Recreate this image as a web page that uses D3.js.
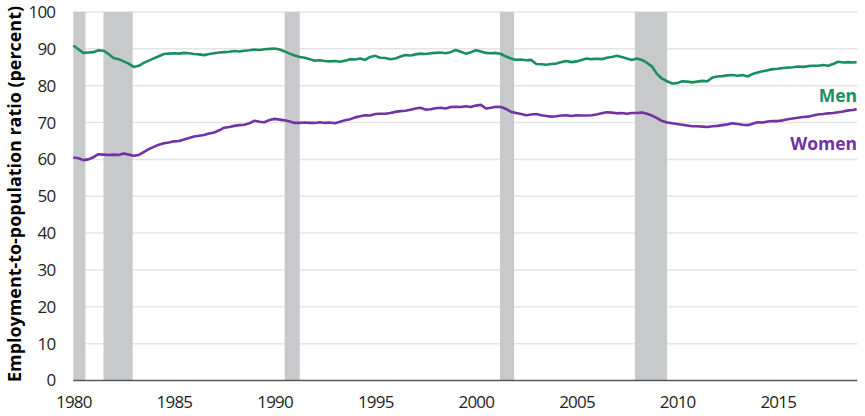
<!DOCTYPE html>
<html>
<head>
<meta charset="utf-8">
<script src="https://cdn.jsdelivr.net/npm/d3@7"></script>
<style>
    body { margin: 0; background: #fff; }
    svg { display: block; font-family: "Open Sans", sans-serif; }
</style>
</head>
<body>
<svg id="chart" width="865" height="416"></svg>
<script>
// quarterly readings (Jan, Apr, Jul, Oct) 1980-2018, last entry is Dec 2018
const menValues = [
    90.9, 89.9, 88.9, 89.0,   89.1, 89.6, 89.5, 88.6,   87.5, 87.2, 86.6, 86.0,
    85.1, 85.4, 86.2, 86.8,   87.4, 88.0, 88.6, 88.7,   88.8, 88.7, 88.9, 88.8,
    88.6, 88.5, 88.3, 88.6,   88.8, 89.0, 89.1, 89.2,   89.4, 89.3, 89.5, 89.6,
    89.8, 89.7, 89.9, 90.0,   90.1, 89.8, 89.3, 88.7,   88.2, 87.8, 87.6, 87.2,
    86.8, 86.9, 86.7, 86.6,   86.7, 86.5, 86.8, 87.2,   87.1, 87.4, 87.0, 87.8,
    88.1, 87.6, 87.5, 87.2,   87.4, 87.9, 88.3, 88.2,   88.5, 88.7, 88.6, 88.8,
    88.9, 89.0, 88.8, 89.1,   89.7, 89.2, 88.7, 89.1,   89.6, 89.3, 88.9, 88.8,
    88.9, 88.6, 87.9, 87.4,   87.0, 87.1, 86.9, 87.0,   85.9, 85.8, 85.7, 85.9,
    86.0, 86.4, 86.7, 86.4,   86.6, 87.0, 87.4, 87.2,   87.3, 87.2, 87.6, 87.8,
    88.1, 87.8, 87.4, 87.0,   87.4, 87.0, 86.2, 85.2,   83.2, 81.9, 81.2, 80.6,
    80.7, 81.2, 81.1, 80.9,   81.1, 81.3, 81.2, 82.2,   82.5, 82.6, 82.8, 82.9,
    82.7, 82.9, 82.5, 83.2,   83.6, 83.9, 84.2, 84.5,   84.6, 84.8, 84.9, 85.0,
    85.2, 85.1, 85.3, 85.4,   85.4, 85.6, 85.4, 85.9,   86.5, 86.3, 86.4, 86.3,
    86.4
];
const womenValues = [
    60.5, 60.3, 59.8, 60.0,   60.6, 61.4, 61.3, 61.2,   61.3, 61.2, 61.6, 61.3,
    61.0, 61.2, 62.0, 62.8,   63.4, 64.0, 64.4, 64.6,   64.9, 65.0, 65.4, 65.8,
    66.2, 66.4, 66.6, 67.0,   67.3, 67.9, 68.6, 68.8,   69.1, 69.3, 69.4, 69.8,
    70.5, 70.2, 70.1, 70.7,   71.0, 70.8, 70.6, 70.3,   69.9, 69.9, 70.0, 69.9,
    69.9, 70.1, 69.9, 70.0,   69.8, 70.2, 70.6, 70.9,   71.4, 71.7, 72.0, 71.9,
    72.3, 72.4, 72.4, 72.6,   72.9, 73.1, 73.2, 73.5,   73.8, 74.0, 73.5, 73.6,
    73.9, 74.0, 73.8, 74.2,   74.3, 74.2, 74.4, 74.2,   74.6, 74.8, 73.8, 74.0,
    74.3, 74.2, 73.7, 72.9,   72.6, 72.3, 72.0, 72.2,   72.3, 72.0, 71.8, 71.6,
    71.7, 71.9, 72.0, 71.8,   72.0, 71.9, 71.9, 72.0,   72.2, 72.5, 72.8, 72.7,
    72.5, 72.6, 72.4, 72.6,   72.6, 72.7, 72.4, 71.9,   71.2, 70.4, 70.0, 69.8,
    69.6, 69.4, 69.2, 69.0,   69.0, 68.9, 68.8, 69.0,   69.1, 69.3, 69.5, 69.8,
    69.6, 69.4, 69.3, 69.7,   70.1, 70.0, 70.3, 70.4,   70.4, 70.6, 70.9, 71.1,
    71.3, 71.5, 71.6, 71.9,   72.2, 72.3, 72.5, 72.6,   72.8, 73.0, 73.3, 73.4,
    73.7
];
// months since Jan 1980 for each reading
const monthIndex = d3.range(0, 468, 3).concat([467]);

// recessions, as decimal years [start, end]
const recessionStart = [1980.0, 1981.5, 1990.5, 2001.2, 2007.9];
const recessionEnd = [1980.6, 1982.95, 1991.25, 2001.9, 2009.5];

const yTicks = [0, 10, 20, 30, 40, 50, 60, 70, 80, 90, 100];
const xTicks = [1980, 1985, 1990, 1995, 2000, 2005, 2010, 2015];

const menColor = "#1a8f5e";
const womenColor = "#7132a3";

const svg = d3.select("#chart");

let x = d3.scaleLinear().domain([1980, 2018.95]).range([73.3, 857.3]);
let y = d3.scaleLinear().domain([0, 100]).range([380.5, 12]);

// grid
svg.append("g")
    .selectAll("line")
    .data(yTicks.filter(function(d) { return d > 0; }))
    .enter().append("line")
    .attr("x1", x.range()[0])
    .attr("x2", x.range()[1])
    .attr("y1", function(d) { return y(d); })
    .attr("y2", function(d) { return y(d); })
    .attr("stroke", "#e4e4e4")
    .attr("stroke-width", 1.5);

// recession bars
svg.append("g")
    .selectAll("rect")
    .data(recessionStart)
    .enter().append("rect")
    .attr("x", function(d) { return x(d); })
    .attr("width", function(d, i) { return x(recessionEnd[i]) - x(d); })
    .attr("y", y(100))
    .attr("height", y(0) - y(100))
    .attr("fill", "#c8c9cb");

// baseline
svg.append("line")
    .attr("x1", x.range()[0])
    .attr("x2", x.range()[1])
    .attr("y1", y(0))
    .attr("y2", y(0))
    .attr("stroke", "#58595b")
    .attr("stroke-width", 1.5);

// axes (labels only)
let yAxis = svg.append("g")
    .attr("transform", "translate(" + x.range()[0] + ",0)")
    .call(d3.axisLeft(y).tickValues(yTicks).tickSize(0).tickPadding(18));
let xAxis = svg.append("g")
    .attr("transform", "translate(0," + y(0) + ")")
    .call(d3.axisBottom(x).tickValues(xTicks).tickFormat(d3.format("d")).tickSize(0).tickPadding(15));

[yAxis, xAxis].forEach(function(ax) {
    ax.select(".domain").remove();
    ax.selectAll("text")
        .attr("fill", "#231f20")
        .style("font-family", "'Open Sans', sans-serif")
        .style("font-size", "17px")
        .style("letter-spacing", "-0.8px");
});

// lines
let line = d3.line()
    .x(function(d) { return x(1980 + d[0] / 12); })
    .y(function(d) { return y(d[1]); });

let series = [
    { name: "Men", values: menValues, color: menColor, labelY: 101.5 },
    { name: "Women", values: womenValues, color: womenColor, labelY: 150 }
];

series.forEach(function(s) {
    let pts = monthIndex.map(function(m, i) { return [m, s.values[i]]; });
    svg.append("path")
        .datum(pts)
        .attr("fill", "none")
        .attr("stroke", s.color)
        .attr("stroke-width", 2.6)
        .attr("stroke-linejoin", "round")
        .attr("d", line);

    svg.append("text")
        .attr("x", 857)
        .attr("y", s.labelY)
        .attr("text-anchor", "end")
        .attr("fill", s.color)
        .style("font-size", "17.5px")
        .style("font-weight", "bold")
        .text(s.name);
});

// y title
svg.append("text")
    .attr("transform", "translate(21,194) rotate(-90)")
    .attr("text-anchor", "middle")
    .attr("fill", "#000")
    .attr("textLength", 376)
    .attr("lengthAdjust", "spacingAndGlyphs")
    .style("font-size", "18px")
    .style("font-weight", "bold")
    .text("Employment-to-population ratio (percent)");
</script>
</body>
</html>
